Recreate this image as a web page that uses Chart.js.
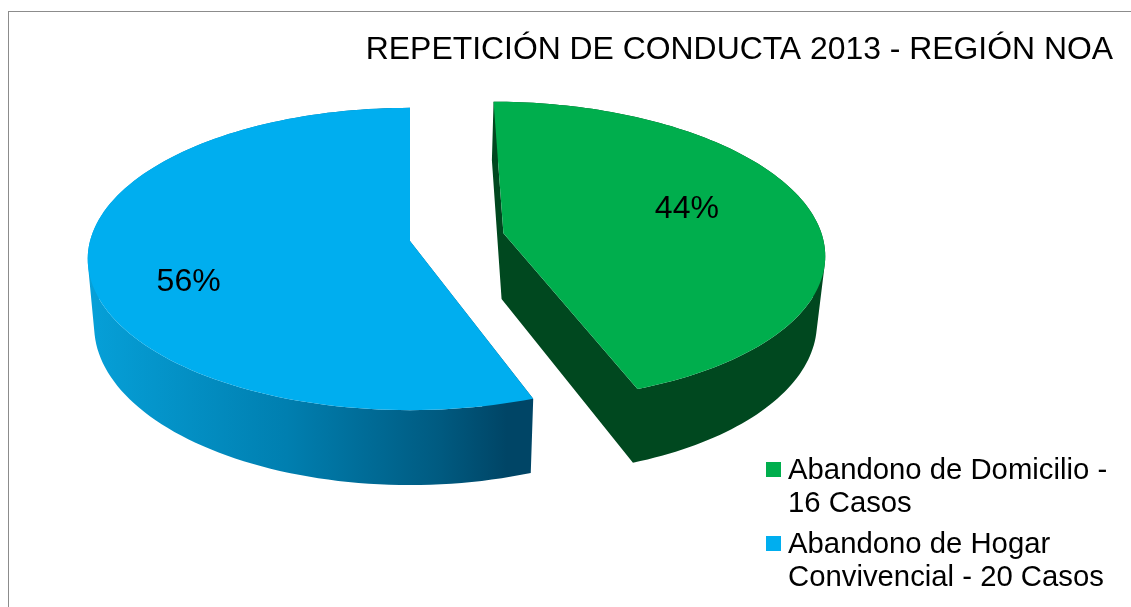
<!DOCTYPE html>
<html lang="es">
<head>
<meta charset="utf-8">
<title>Repetición de conducta 2013 - Región NOA</title>
<script src="https://cdn.jsdelivr.net/npm/chart.js@4"></script>
<style>
    html, body { margin: 0; padding: 0; background: #fff; overflow: hidden; }
    #cadre { position: absolute; left: 8px; top: 11px; right: 0; bottom: 0; border-left: 1px solid #8c8c8c; border-top: 1px solid #8c8c8c; }
    #pie { position: absolute; left: 0; top: 0; }
    #legende { position: absolute; left: 766px; top: 452px; width: 345px; font: 29.3px/33px "Liberation Sans", Arial, sans-serif; color: #000; }
    .item { position: relative; padding-left: 22px; margin-bottom: 8px; }
    .item i { position: absolute; left: 0; top: 10px; width: 15px; height: 15px; }
</style>
</head>
<body>
<div id="cadre"></div>
<canvas id="pie" width="1131" height="607"></canvas>
<div id="legende"></div>
<script>
// data
const titre = 'REPETICIÓN DE CONDUCTA 2013 - REGIÓN NOA';
const categories = ['Abandono de Domicilio - 16 Casos', 'Abandono de Hogar Convivencial - 20 Casos'];
const casos = [16, 20];
const couleurs = ['#00ae4d', '#00aeef'];
const decalages = [68.5, 0]; // exploded slice, px

// camera for the 3D look (disc seen in perspective)
const CX = 410, CY = 241, RX = 320, RY = 149, K = 0.119;
const PROFONDEUR = 66, BASE_X = 0.98;
// label spots inside each slice, in disc units
const ancres = [[0.594, -0.168], [-0.67, 0.265]];

function projeter(p, base) {
    const w = 1 - K * p[1];
    const sx = base ? BASE_X : 1;
    return {
        x: CX + sx * RX * p[0] / w,
        y: CY + RY * p[1] / w + (base ? PROFONDEUR / w : 0)
    };
}

// adds one closed piece to the current path, always turning the same way
function ajouterQuad(ctx, q) {
    let aire = 0;
    q.forEach((a, i) => {
        const b = q[(i + 1) % q.length];
        aire += a.x * b.y - b.x * a.y;
    });
    const pts = aire < 0 ? q.slice().reverse() : q;
    pts.forEach((a, i) => {
        if (i === 0) ctx.moveTo(a.x, a.y); else ctx.lineTo(a.x, a.y);
    });
    ctx.closePath();
}

const pie3d = {
    id: 'pie3d',
    beforeDatasetsDraw(chart) {
        const ctx = chart.ctx;
        const arcs = chart.getDatasetMeta(0).data;
        const total = casos.reduce((a, b) => a + b, 0);

        const degrade = ctx.createLinearGradient(88, 0, 529, 0);
        degrade.addColorStop(0, '#06a0d8');
        degrade.addColorStop(0.45, '#007fb0');
        degrade.addColorStop(0.8, '#005a80');
        degrade.addColorStop(0.95, '#004566');
        const flancs = ['#00481f', degrade];

        arcs.forEach((arc, idx) => {
            const R = arc.outerRadius;
            const mid = (arc.startAngle + arc.endAngle) / 2;
            const ox = arc.options.offset / R * Math.cos(mid);
            const oy = arc.options.offset / R * Math.sin(mid);
            const contour = [[ox, oy]];
            const n = 120;
            for (let i = 0; i <= n; i++) {
                const a = arc.startAngle + (arc.endAngle - arc.startAngle) * i / n;
                contour.push([ox + Math.cos(a), oy + Math.sin(a)]);
            }

            ctx.save();
            // side walls: all the quads in a single path so no seams show
            ctx.fillStyle = flancs[idx];
            ctx.beginPath();
            contour.forEach((a, i) => {
                const b = contour[(i + 1) % contour.length];
                ajouterQuad(ctx, [projeter(a, false), projeter(b, false), projeter(b, true), projeter(a, true)]);
            });
            ctx.fill('nonzero');

            // top face
            ctx.fillStyle = couleurs[idx];
            ctx.beginPath();
            contour.forEach((p, i) => {
                const q = projeter(p, false);
                if (i === 0) ctx.moveTo(q.x, q.y); else ctx.lineTo(q.x, q.y);
            });
            ctx.closePath();
            ctx.fill();

            // percent label
            const l = projeter([ox + ancres[idx][0], oy + ancres[idx][1]], false);
            ctx.fillStyle = '#000';
            ctx.font = '32px "Liberation Sans", Arial, sans-serif';
            ctx.textAlign = 'center';
            ctx.textBaseline = 'middle';
            ctx.fillText(Math.round(casos[idx] / total * 100) + '%', l.x, l.y);
            ctx.restore();
        });
        return false;
    }
};

new Chart(document.getElementById('pie'), {
    type: 'pie',
    data: {
        labels: categories,
        datasets: [{ data: casos, backgroundColor: couleurs, offset: decalages, borderWidth: 0 }]
    },
    options: {
        responsive: false,
        animation: false,
        layout: { padding: { right: 18 } },
        plugins: {
            legend: { display: false },
            tooltip: { enabled: false },
            title: {
                display: true,
                text: titre,
                align: 'end',
                color: '#000',
                font: { family: '"Liberation Sans", Arial, sans-serif', size: 31.9, weight: 'normal' },
                padding: { top: 31, bottom: 10 }
            }
        }
    },
    plugins: [pie3d]
});

// legend next to the canvas, wrapped like the original
const legende = document.getElementById('legende');
categories.forEach((c, i) => {
    const item = document.createElement('div');
    item.className = 'item';
    item.innerHTML = `<i style="background:${couleurs[i]}"></i>${c}`;
    legende.appendChild(item);
});
</script>
</body>
</html>
